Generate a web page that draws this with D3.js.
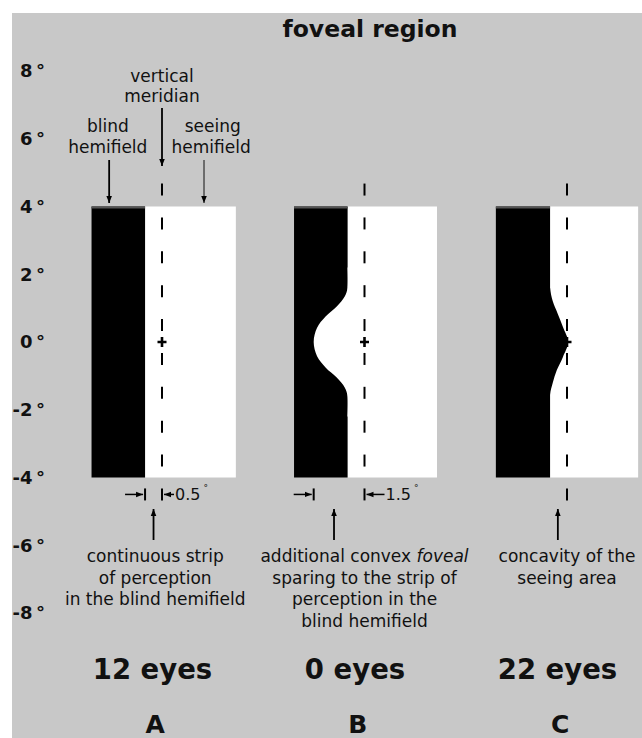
<!DOCTYPE html>
<html>
<head>
<meta charset="utf-8">
<script src="https://cdn.jsdelivr.net/npm/d3@7"></script>
<style>
  html, body { margin: 0; padding: 0; background: #fff; }
  svg { display: block; font-family: "DejaVu Sans", sans-serif; }
</style>
</head>
<body>
<div id="chart"></div>
<script>
const w = 642, h = 738;

// data (degrees of visual angle)
const panels = ["A", "B", "C"];
const eyes = [12, 0, 22];
const yTicks = [8, 6, 4, 2, 0, -2, -4, -6, -8];
const boxTop = 4, boxBottom = -4;
const boxLeft = [-2.08, -2.08, -2.1];
const boxRight = [2.18, 2.14, 2.1];
const stripEdge = -0.5;                 // blind/seeing border, left of meridian
const sparing = [0.5, 1.5, null];       // measured widths under panels
const dashCenters = [4.5, 3.5, 2.5, 1.5, 0.5, -0.5, -1.5, -2.5, -3.5, -4.5];
// border shapes near the fovea [x, y]
const bulgeB = [[-0.5, 2.2], [-0.5, 1.6], [-0.58, 1.35], [-0.82, 1.05], [-1.15, 0.75], [-1.4, 0.42],
                [-1.5, 0], [-1.4, -0.42], [-1.15, -0.75], [-0.82, -1.05], [-0.58, -1.35], [-0.5, -1.6], [-0.5, -2.2]];
const bulgeC = [[-0.5, 2.2], [-0.5, 1.6], [-0.42, 1.2], [-0.28, 0.85], [-0.12, 0.44],
                [0.03, 0], [-0.12, -0.44], [-0.3, -0.83], [-0.42, -1.2], [-0.5, -1.55], [-0.5, -2.2]];
// fill colour and the side the shape is closed on (x in degrees)
const bulges = [null, {pts: bulgeB, fill: "#fff", back: -0.2}, {pts: bulgeC, fill: "#000", back: -0.8}];
const captions = [
  ["continuous strip", "of perception", "in the blind hemifield"],
  [["additional convex ", "foveal"], "sparing to the strip of", "perception in the", "blind hemifield"],
  ["concavity of the", "seeing area"]
];
const captionX = [-0.2, 0, 0];
const pointerX = [-0.25, -0.9, -0.27];

const svg = d3.select("#chart").append("svg")
  .attr("width", w).attr("height", h)
  .attr("viewBox", "0 0 " + w + " " + h);

svg.append("rect").attr("x", 12).attr("y", 13).attr("width", w - 12).attr("height", h - 13)
  .attr("fill", "#c8c8c8");

const defs = svg.append("defs");
defs.append("marker").attr("id", "head")
  .attr("viewBox", "0 0 10 10").attr("refX", 10).attr("refY", 5)
  .attr("markerWidth", 7).attr("markerHeight", 7).attr("markerUnits", "userSpaceOnUse")
  .attr("orient", "auto")
  .append("path").attr("d", "M0,1L10,5L0,9Z").attr("fill", "#000");

const y = d3.scaleLinear().domain([-8, 8]).range([613, 71]);
const k = y(0) - y(1);
const panelX = d3.scalePoint().domain(panels).range([162, 567]);
const xOf = p => d3.scaleLinear().domain([0, 1]).range([panelX(p), panelX(p) + k]);

// y axis
const axis = svg.append("g").attr("transform", "translate(48,0)")
  .call(d3.axisLeft(y).tickValues(yTicks).tickSize(0).tickPadding(3)
    .tickFormat(d => d + "\u2009°"));
axis.select(".domain").remove();
axis.selectAll("text").attr("font-size", 18).attr("font-weight", "bold")
  .attr("font-family", "DejaVu Sans, sans-serif").attr("fill", "#111");

// title
svg.append("text").attr("x", 370).attr("y", 37).attr("text-anchor", "middle")
  .attr("font-size", 23.5).attr("font-weight", "bold").attr("fill", "#111")
  .text("foveal region");

panels.forEach((p, i) => {
  const x = xOf(p);
  const g = svg.append("g");
  // seeing hemifield
  g.append("rect").attr("x", x(stripEdge)).attr("y", y(boxTop))
    .attr("width", x(boxRight[i]) - x(stripEdge)).attr("height", y(boxBottom) - y(boxTop))
    .attr("fill", "#fff");
  // blind hemifield
  g.append("rect").attr("x", x(boxLeft[i])).attr("y", y(boxTop))
    .attr("width", x(stripEdge) - x(boxLeft[i])).attr("height", y(boxBottom) - y(boxTop))
    .attr("fill", "#000");
  g.append("line").attr("x1", x(boxLeft[i])).attr("x2", x(stripEdge))
    .attr("y1", y(boxTop) + 1).attr("y2", y(boxTop) + 1)
    .attr("stroke", "#555").attr("stroke-width", 2);
  if (bulges[i]) {
    const b = bulges[i], pts = b.pts;
    const line = d3.line().x(d => x(d[0])).y(d => y(d[1])).curve(d3.curveCatmullRom.alpha(0.5));
    const close = `L${x(b.back)},${y(pts[pts.length - 1][1])}L${x(b.back)},${y(pts[0][1])}Z`;
    g.append("path").attr("d", line(pts) + close).attr("fill", b.fill);
  }
  // vertical meridian
  g.selectAll(null).data(dashCenters).enter().append("line")
    .attr("x1", x(0)).attr("x2", x(0))
    .attr("y1", d => y(d) - 6).attr("y2", d => y(d) + 6)
    .attr("stroke", "#000").attr("stroke-width", 2);
  g.append("path").attr("d", `M${x(0) - 4.5},${y(0)}h9M${x(0)},${y(0) - 5}v10`)
    .attr("stroke", "#000").attr("stroke-width", 2.6);
  // sparing width marks
  if (sparing[i] != null) {
    const ym = y(-4.5), xl = x(-sparing[i]);
    g.append("line").attr("x1", xl).attr("x2", xl).attr("y1", ym - 6).attr("y2", ym + 6)
      .attr("stroke", "#000").attr("stroke-width", 2);
    g.append("line").attr("x1", xl - 20).attr("x2", xl - 2).attr("y1", ym).attr("y2", ym)
      .attr("stroke", "#000").attr("stroke-width", 1.5).attr("marker-end", "url(#head)");
    const al = i === 0 ? 12 : 20;
    g.append("line").attr("x1", x(0) + al).attr("x2", x(0) + 2).attr("y1", ym).attr("y2", ym)
      .attr("stroke", "#000").attr("stroke-width", 1.5).attr("marker-end", "url(#head)");
    const t = g.append("text").attr("x", x(0) + al + 1).attr("y", ym + 6)
      .attr("font-size", 16).attr("fill", "#111").text(sparing[i]);
    t.append("tspan").attr("font-size", 9).attr("dx", 3).attr("dy", -9).text("°");
  }
  // pointer up to the strip
  g.append("line").attr("x1", x(pointerX[i])).attr("x2", x(pointerX[i]))
    .attr("y1", 540).attr("y2", 509)
    .attr("stroke", "#000").attr("stroke-width", 1.8).attr("marker-end", "url(#head)");
  // caption
  const cap = g.append("text").attr("text-anchor", "middle").attr("font-size", 17).attr("fill", "#111");
  captions[i].forEach((c, j) => {
    const ts = cap.append("tspan").attr("x", x(captionX[i])).attr("y", 562 + j * 21.5);
    if (Array.isArray(c)) {
      ts.append("tspan").text(c[0]);
      ts.append("tspan").attr("font-style", "italic").text(c[1]);
    } else ts.text(c);
  });
  // counts and labels
  g.append("text").attr("x", x(-0.28)).attr("y", 679).attr("text-anchor", "middle")
    .attr("font-size", 27.5).attr("font-weight", "bold").attr("fill", "#111")
    .text(eyes[i] + " eyes");
  g.append("text").attr("x", x(-0.2)).attr("y", 733).attr("text-anchor", "middle")
    .attr("font-size", 25).attr("font-weight", "bold").attr("fill", "#111")
    .text(p);
});

// labels above panel A
const xa = xOf("A");
const notes = svg.append("g").attr("font-size", 17).attr("fill", "#111").attr("text-anchor", "middle");
notes.append("text").attr("x", xa(0)).attr("y", 82).text("vertical");
notes.append("text").attr("x", xa(0)).attr("y", 102).text("meridian");
notes.append("text").attr("x", xa(-1.6)).attr("y", 132).text("blind");
notes.append("text").attr("x", xa(-1.6)).attr("y", 153).text("hemifield");
notes.append("text").attr("x", xa(1.5)).attr("y", 132).text("seeing");
notes.append("text").attr("x", xa(1.45)).attr("y", 153).text("hemifield");
svg.append("line").attr("x1", xa(0)).attr("x2", xa(0)).attr("y1", 108).attr("y2", 166)
  .attr("stroke", "#000").attr("stroke-width", 1.8).attr("marker-end", "url(#head)");
svg.append("line").attr("x1", xa(-1.56)).attr("x2", xa(-1.56)).attr("y1", 160).attr("y2", 203)
  .attr("stroke", "#000").attr("stroke-width", 1.8).attr("marker-end", "url(#head)");
svg.append("line").attr("x1", xa(1.24)).attr("x2", xa(1.24)).attr("y1", 160).attr("y2", 203)
  .attr("stroke", "#222").attr("stroke-width", 1.1).attr("marker-end", "url(#head)");
</script>
</body>
</html>
